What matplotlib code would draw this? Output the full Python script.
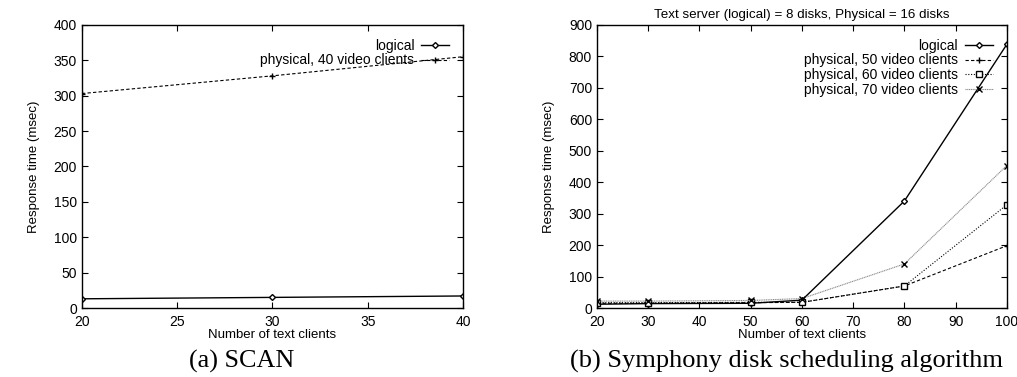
import matplotlib.pyplot as plt

# Panel (a): SCAN
scan_x = [20, 30, 40]
scan_logical = [13, 15, 17]
scan_phys40 = [303, 328, 355]

# Panel (b): Symphony
sym_x = [20, 30, 50, 60, 80, 100]
sym_logical = [12, 14, 15, 25, 340, 838]
sym_phys50 = [15, 15, 17, 18, 70, 198]
sym_phys60 = [17, 17, 18, 18, 70, 328]
sym_phys70 = [22, 22, 24, 30, 140, 453]

plt.rcParams['font.family'] = ['Liberation Sans', 'DejaVu Sans']
plt.rcParams['font.size'] = 9

fig = plt.figure(figsize=(10.17, 3.77), dpi=100)
ax1 = fig.add_axes([0.0806, 0.183, 0.3746, 0.751])
ax2 = fig.add_axes([0.587, 0.183, 0.403, 0.751])

ax1.plot(scan_x, scan_logical, color='black', lw=1.0, marker='D', ms=3,
         mfc='white', label='logical')
ax1.plot(scan_x, scan_phys40, color='black', lw=0.8, ls=(0, (3, 2)), marker='+',
         ms=5, label='physical, 40 video clients')
ax1.set_xlim(20, 40)
ax1.set_ylim(0, 400)
ax1.set_xticks(range(20, 41, 5))
ax1.set_yticks(range(0, 401, 50))

ax2.plot(sym_x, sym_logical, color='black', lw=1.0, marker='D', ms=3,
         mfc='white', label='logical')
ax2.plot(sym_x, sym_phys50, color='black', lw=0.8, ls=(0, (3, 2)), marker='+',
         ms=5, label='physical, 50 video clients')
ax2.plot(sym_x, sym_phys60, color='black', lw=0.8, ls=(0, (1, 1.5)), marker='s',
         ms=4, mfc='white', label='physical, 60 video clients')
ax2.plot(sym_x, sym_phys70, color='#888888', lw=0.8, ls=(0, (1, 0.6)), marker='x',
         ms=4, mec='black', label='physical, 70 video clients')
ax2.set_xlim(20, 100)
ax2.set_ylim(0, 900)
ax2.set_xticks(range(20, 101, 10))
ax2.set_yticks(range(0, 901, 100))
ax2.set_title('Text server (logical) = 8 disks, Physical = 16 disks',
              fontsize=9.6, pad=5)

for ax in (ax1, ax2):
    ax.tick_params(direction='in', top=True, right=True, length=4, labelsize=10)
    ax.tick_params(axis='x', pad=5)
    ax.set_xlabel('Number of text clients', fontsize=9.5, labelpad=0)
    ax.set_ylabel('Response time (msec)', fontsize=9.5, labelpad=10)
    for s in ax.spines.values():
        s.set_linewidth(1.0)
    ax.legend(loc='upper right', frameon=False, markerfirst=False,
              fontsize=10, handlelength=2.0, labelspacing=0.05,
              borderaxespad=0.6, handletextpad=0.5)

fig.text(0.238, 0.04, '(a) SCAN', family='Liberation Serif', fontsize=18.8,
         ha='center', va='center')
fig.text(0.773, 0.04, '(b) Symphony disk scheduling algorithm',
         family='Liberation Serif', fontsize=19, ha='center', va='center')

fig.savefig('out.png', dpi=100)
